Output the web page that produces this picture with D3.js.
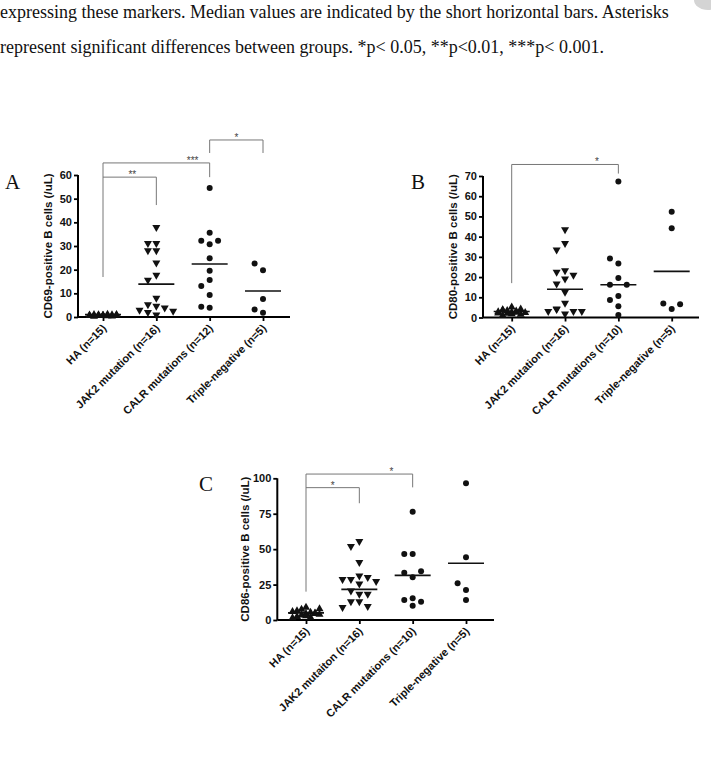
<!DOCTYPE html>
<html>
<head>
<meta charset="utf-8">
<script src="https://cdn.jsdelivr.net/npm/d3@7"></script>
<style>
  body { margin: 0; background: #fff; }
  svg { display: block; }
  .caption { font-family: "Liberation Serif", "Times New Roman", serif; font-size: 18px; fill: #111; }
  .panel-letter { font-family: "Liberation Serif", "Times New Roman", serif; font-size: 21px; fill: #111; }
  .tick-label, .cat-label, .y-title { font-family: "Liberation Sans", Arial, sans-serif; font-weight: bold; fill: #111; }
  .star { font-family: "Liberation Sans", Arial, sans-serif; font-size: 10px; fill: #444; }
</style>
</head>
<body>
<svg width="711" height="765"></svg>
<script>
// caption lines from the page around the figure
const captionLines = [
  "expressing these markers. Median values are indicated by the short horizontal bars. Asterisks",
  "represent significant differences between groups. *p< 0.05, **p<0.01, ***p< 0.001."
];

// Panel A - CD69
const groupsA = ["HA (n=15)", "JAK2 mutation (n=16)", "CALR mutations (n=12)", "Triple-negative (n=5)"];
const haA = [1.0, 1.2, 0.8, 1.4, 0.7, 1.1, 1.3, 0.9, 1.0, 1.5, 0.6, 1.2, 0.9, 1.1, 1.0];
const jak2A = [37.4, 30.7, 30.7, 27.6, 27.6, 22.4, 17.3, 15.2, 7.5, 4.8, 4.2, 3.4, 2.5, 2.0, 1.5, 0.5];
const calrA = [54.5, 35.6, 30.7, 32.2, 32.2, 24.8, 19.5, 15.6, 13.1, 9.3, 3.9, 4.3];
const tripleA = [19.8, 22.6, 7.6, 1.8, 3.2];
const barsA = [1.0, 13.9, 22.4, 11.0];
const ticksA = [0, 10, 20, 30, 40, 50, 60];

// Panel B - CD80
const groupsB = ["HA (n=15)", "JAK2 mutation (n=16)", "CALR mutations (n=10)", "Triple-negative (n=5)"];
const haB = [3.0, 5.5, 2.5, 3.5, 4.0, 2.0, 3.2, 4.6, 2.8, 1.5, 3.8, 2.2, 3.0, 4.2, 2.6];
const jak2B = [43.0, 36.2, 32.9, 22.7, 21.9, 20.5, 18.6, 16.1, 12.0, 6.6, 1.3, 3.5, 2.5, 2.5, 2.5, 3.8];
const calrB = [67.3, 26.7, 29.2, 19.5, 16.2, 16.2, 10.6, 8.6, 5.6, 1.2];
const tripleB = [52.3, 44.1, 4.2, 6.9, 6.6];
const barsB = [3.0, 14.0, 16.2, 22.8];
const ticksB = [0, 10, 20, 30, 40, 50, 60, 70];

// Panel C - CD86
const groupsC = ["HA (n=15)", "JAK2 mutaiton (n=16)", "CALR mutations (n=10)", "Triple-negative (n=5)"];
const haC = [5.0, 8.0, 4.0, 6.0, 9.5, 3.0, 7.0, 5.5, 2.5, 6.5, 4.5, 8.5, 3.5, 5.0, 2.0];
const jak2C = [54.8, 51.3, 40.0, 30.5, 28.0, 29.4, 28.0, 26.5, 24.7, 19.9, 17.6, 17.6, 12.2, 12.2, 8.9, 8.2];
const calrC = [76.4, 46.6, 46.6, 30.1, 33.4, 34.4, 15.3, 14.1, 12.9, 10.1];
const tripleC = [96.5, 44.2, 21.2, 25.9, 14.1];
const barsC = [5.0, 21.6, 31.5, 40.0];
const ticksC = [0, 25, 50, 75, 100];

const svg = d3.select("svg");

svg.selectAll("text.caption")
  .data(captionLines)
  .enter().append("text")
  .attr("class", "caption")
  .attr("x", 0)
  .attr("y", (d, i) => i === 0 ? 18 : 53)
  .text(d => d);

// faint grey smudge at the top right corner of the scanned page
svg.append("ellipse")
  .attr("cx", 708).attr("cy", 0)
  .attr("rx", 14).attr("ry", 10)
  .attr("fill", "#d4d4d4");

const panels = [
  {
    letter: "A", letterX: 5, letterY: 189,
    title: "CD69-positive B cells (/uL)", titleX: 48,
    groups: groupsA, series: [haA, jak2A, calrA, tripleA], bars: barsA, ticks: ticksA,
    domain: [0, 60], axisX: 78, axisEnd: 290, top: 175, bottom: 317, first: 103, last: 263,
    brackets: [
      { a: 0, b: 2, y: 65.1, la: 16.9, lb: 59.1, label: "***", at: 0.84 },
      { a: 0, b: 1, y: 59.1, la: null, lb: 47.3, label: "**", at: 0.55 },
      { a: 2, b: 3, y: 74.8, la: 69.3, lb: 69.3, label: "*", at: 0.5 }
    ]
  },
  {
    letter: "B", letterX: 411, letterY: 189,
    title: "CD80-positive B cells (/uL)", titleX: 453,
    groups: groupsB, series: [haB, jak2B, calrB, tripleB], bars: barsB, ticks: ticksB,
    domain: [0, 70], axisX: 483, axisEnd: 699, top: 176, bottom: 317.5, first: 511.7, last: 671.7,
    brackets: [
      { a: 0, b: 2, y: 75.7, la: 17, lb: 71.2, label: "*", at: 0.8 }
    ]
  },
  {
    letter: "C", letterX: 199, letterY: 491,
    title: "CD86-positive B cells (/uL)", titleX: 245,
    groups: groupsC, series: [haC, jak2C, calrC, tripleC], bars: barsC, ticks: ticksC,
    domain: [0, 100], axisX: 277.3, axisEnd: 494, top: 478.3, bottom: 620, first: 306, last: 466,
    brackets: [
      { a: 0, b: 2, y: 103, la: 20, lb: 93.6, label: "*", at: 0.8 },
      { a: 0, b: 1, y: 93.4, la: null, lb: 82.4, label: "*", at: 0.5 }
    ]
  }
];

// simple greedy scatter spreading: center first, then left/right slots
function spread(values, y, cx, step, maxSlot, minDist) {
  const placed = [];
  return values.map(v => {
    const py = y(v);
    let best = cx, bestHits = Infinity;
    for (let k = 0; k <= 2 * maxSlot; k++) {
      const slot = k === 0 ? 0 : (k % 2 ? -Math.ceil(k / 2) : k / 2);
      const px = cx + slot * step;
      const hits = placed.filter(p => Math.hypot(p.x - px, p.y - py) < minDist).length;
      if (hits === 0) { best = px; break; }
      if (hits < bestHits) { bestHits = hits; best = px; }
    }
    const pt = { x: best, y: py, v };
    placed.push(pt);
    return pt;
  });
}

const triDown = "M-4,-3.4 L4,-3.4 L0,3.6 Z";
const triUp = "M-4,3.2 L4,3.2 L0,-3.8 Z";

panels.forEach(p => {
  const y = d3.scaleLinear().domain(p.domain).range([p.bottom, p.top]);
  const x = d3.scalePoint().domain(p.groups).range([p.first, p.last]);
  const g = svg.append("g");

  g.append("text")
    .attr("class", "panel-letter")
    .attr("x", p.letterX).attr("y", p.letterY)
    .text(p.letter);

  // significance brackets
  p.brackets.forEach(b => {
    const xa = x(p.groups[b.a]), xb = x(p.groups[b.b]);
    const bg = g.append("g").attr("stroke", "#777").attr("stroke-width", 1).attr("fill", "none");
    bg.append("line").attr("x1", xa).attr("x2", xb).attr("y1", y(b.y)).attr("y2", y(b.y));
    if (b.la !== null) bg.append("line").attr("x1", xa).attr("x2", xa).attr("y1", y(b.y)).attr("y2", y(b.la));
    bg.append("line").attr("x1", xb).attr("x2", xb).attr("y1", y(b.y)).attr("y2", y(b.lb));
    g.append("text")
      .attr("class", "star")
      .attr("x", xa + (xb - xa) * b.at)
      .attr("y", y(b.y) + 1)
      .attr("text-anchor", "middle")
      .text(b.label);
  });

  // y axis
  const yAxis = d3.axisLeft(y).tickValues(p.ticks).tickSize(4).tickPadding(2);
  const ya = g.append("g").attr("transform", `translate(${p.axisX},0)`).call(yAxis);
  ya.select(".domain").attr("d", `M0,${p.bottom}V${p.top}`).attr("stroke-width", 2);
  ya.selectAll(".tick line").attr("stroke-width", 1.8);
  ya.selectAll(".tick text").attr("class", "tick-label").attr("font-size", 11).attr("font-family", null);

  // x axis
  const xAxis = d3.axisBottom(x).tickSize(4).tickFormat("");
  const xa = g.append("g").attr("transform", `translate(0,${p.bottom})`).call(xAxis);
  xa.select(".domain").attr("d", `M${p.axisX},0H${p.axisEnd}`).attr("stroke-width", 2);
  xa.selectAll(".tick line").attr("stroke-width", 1.8);

  g.selectAll("text.cat-label")
    .data(p.groups)
    .enter().append("text")
    .attr("class", "cat-label")
    .attr("font-size", 11)
    .attr("text-anchor", "end")
    .attr("transform", d => `translate(${x(d) + 4},${p.bottom + 12}) rotate(-45)`)
    .text(d => d);

  g.append("text")
    .attr("class", "y-title")
    .attr("font-size", 11.5)
    .attr("text-anchor", "middle")
    .attr("transform", `translate(${p.titleX},${(p.top + p.bottom) / 2}) rotate(-90)`)
    .attr("dy", "0.35em")
    .text(p.title);

  // points
  p.series.forEach((vals, i) => {
    const cx = x(p.groups[i]);
    const pts = i === 0
      ? spread(vals, y, cx, 4.5, 3, 4.5)
      : spread(vals, y, cx, 8.4, 2, 7);
    const sg = g.append("g").attr("fill", "#111");
    if (i === 0 || i === 1) {
      sg.selectAll("path").data(pts).enter().append("path")
        .attr("d", i === 0 ? triUp : triDown)
        .attr("transform", d => `translate(${d.x},${d.y})`);
    } else {
      sg.selectAll("circle").data(pts).enter().append("circle")
        .attr("r", 3)
        .attr("cx", d => d.x).attr("cy", d => d.y);
    }
  });

  // median bars
  g.selectAll("line.bar")
    .data(p.bars)
    .enter().append("line")
    .attr("class", "bar")
    .attr("x1", (d, i) => x(p.groups[i]) - 18)
    .attr("x2", (d, i) => x(p.groups[i]) + 18)
    .attr("y1", d => y(d)).attr("y2", d => y(d))
    .attr("stroke", "#111").attr("stroke-width", 1.6);
});
</script>
</body>
</html>
